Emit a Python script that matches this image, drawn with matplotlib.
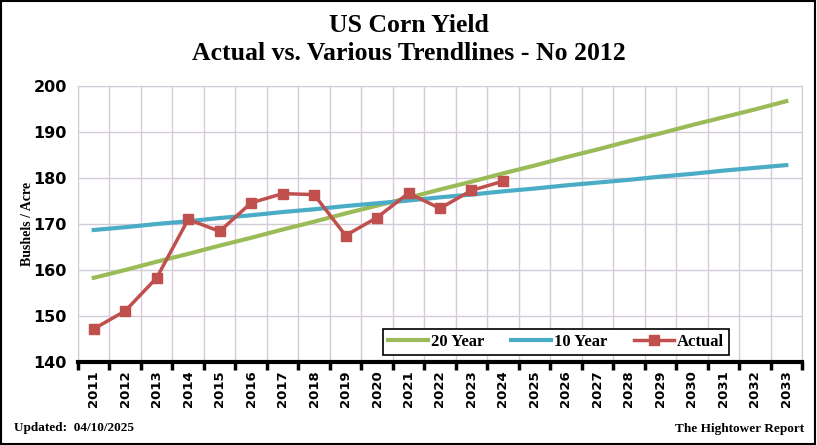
import numpy as np
import matplotlib.pyplot as plt
from matplotlib.patches import Rectangle

years = [str(y) for y in range(2011, 2034)]
actual = [147.2, 151.1, 158.3, 171.0, 168.4, 174.6, 176.6, 176.4, 167.5, 171.4,
          176.7, 173.4, 177.3, 179.3]
trend20 = [158.3, 160.0, 161.8, 163.5, 165.3, 167.0, 168.8, 170.5, 172.3, 174.0,
           175.7, 177.5, 179.2, 181.0, 182.7, 184.5, 186.2, 188.0, 189.7, 191.5,
           193.2, 194.9, 196.7]
trend10 = [168.7, 169.3, 170.0, 170.6, 171.3, 171.9, 172.6, 173.2, 173.9, 174.5,
           175.1, 175.8, 176.4, 177.1, 177.7, 178.4, 179.0, 179.6, 180.3, 180.9,
           181.6, 182.2, 182.8]

serif = 'Liberation Serif'
fig = plt.figure(figsize=(8.17, 4.45), dpi=100)
fig.patches.append(Rectangle((0.001, 0.002), 0.997, 0.996, transform=fig.transFigure,
                             fill=False, edgecolor='black', linewidth=1.5))
ax = fig.add_axes([78 / 817, 1 - 362 / 445, (802 - 78) / 817, (362 - 86) / 445])

x = np.arange(len(years))
ax.plot(x, trend20, color='#9BBB59', lw=3, label='20 Year', zorder=3)
ax.plot(x, trend10, color='#4BACC6', lw=3, label='10 Year', zorder=3)
ax.plot(x[:len(actual)], actual, color='#C0504D', lw=2.5, marker='s', ms=7,
        label='Actual', zorder=4)

ax.set_xlim(-0.5, len(years) - 0.5)
ax.set_ylim(140, 200)
ax.set_yticks(range(140, 201, 10))
ax.set_yticklabels([str(v) for v in range(140, 201, 10)], fontsize=11.5,
                   fontweight='bold', family='DejaVu Sans')
ax.set_xticks(x)
ax.set_xticklabels(years, rotation=90, fontsize=9.5, fontweight='bold', family='DejaVu Sans')
ax.tick_params(axis='x', length=0, pad=6)
ax.tick_params(axis='y', length=0, pad=8)
ax.set_xticks(np.arange(-0.5, len(years)), minor=True)
ax.tick_params(axis='x', which='minor', length=6, width=2.5, direction='out')
ax.grid(True, which='minor', axis='x', color='#d3cbd7', lw=1)
ax.grid(True, which='major', axis='y', color='#d3cbd7', lw=1)
for s in ['top', 'left', 'right']:
    ax.spines[s].set_color('#d3cbd7')
ax.spines['bottom'].set_linewidth(3)
ax.spines['bottom'].set_color('black')
ax.set_axisbelow(True)

ax.set_ylabel('Bushels / Acre', family=serif, fontweight='bold', fontsize=10, labelpad=0)

leg = ax.legend(ncol=3, loc='lower left', bbox_to_anchor=((383 - 78) / 724, 0.025, 346 / 724, 0.092),
                mode='expand', borderaxespad=0,
                prop={'family': serif, 'weight': 'bold', 'size': 12},
                fancybox=False, framealpha=1, edgecolor='black', handlelength=2.4,
                handletextpad=0.2, borderpad=0.3)
leg.get_frame().set_linewidth(1.2)

fig.text(0.5, 1 - 26 / 445, 'US Corn Yield', ha='center', va='center',
         family=serif, fontweight='bold', fontsize=18.5)
fig.text(0.5, 1 - 53 / 445, 'Actual vs. Various Trendlines - No 2012', ha='center', va='center',
         family=serif, fontweight='bold', fontsize=18.5)
fig.text(14 / 817, 1 - 428 / 445, 'Updated:  04/10/2025', ha='left', va='center',
         family=serif, fontweight='bold', fontsize=9.5)
fig.text(804 / 817, 1 - 429 / 445, 'The Hightower Report', ha='right', va='center',
         family=serif, fontweight='bold', fontsize=9.5)

fig.savefig('out.png', dpi=100)
